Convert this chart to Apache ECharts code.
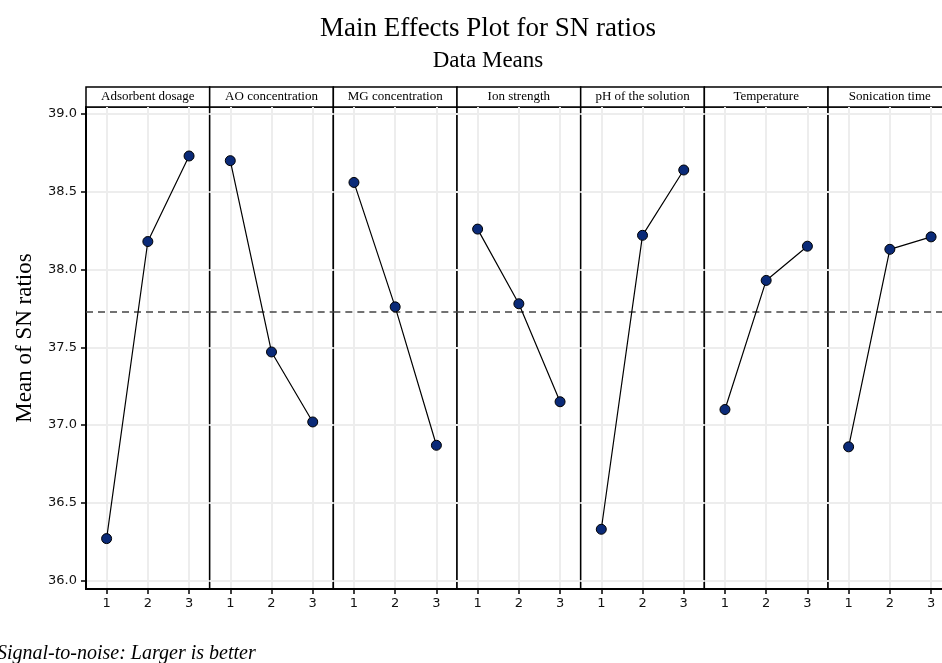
<!DOCTYPE html>
<html lang="en">
<head>
<meta charset="UTF-8">
<title>Main Effects Plot for SN ratios</title>
<script src="https://cdn.jsdelivr.net/npm/echarts@6/dist/echarts.min.js"></script>
<style>
  html, body { margin: 0; padding: 0; background: #fff; }
  #chart { width: 942px; height: 663px; }
</style>
</head>
<body>
<div id="chart"></div>
<script>
// factor names (strip labels) and levels
const factors = ['Adsorbent dosage', 'AO concentration', 'MG concentration', 'Ion strength',
                 'pH of the solution', 'Temperature', 'Sonication time'];
const levels = [1, 2, 3];

// mean of SN ratios per level
const adsorbentDosage = [36.27, 38.18, 38.73];
const aoConcentration = [38.70, 37.47, 37.02];
const mgConcentration = [38.56, 37.76, 36.87];
const ionStrength     = [38.26, 37.78, 37.15];
const phSolution      = [36.33, 38.22, 38.64];
const temperature     = [37.10, 37.93, 38.15];
const sonicationTime  = [36.86, 38.13, 38.21];
const grandMean = 37.73;

const yTicks = [36.0, 36.5, 37.0, 37.5, 38.0, 38.5, 39.0];

const allValues = [adsorbentDosage, aoConcentration, mgConcentration, ionStrength,
                   phSolution, temperature, sonicationTime];

// layout
const LEFT = 86, PANEL_W = 123.67, TOP = 107, BOTTOM = 74, STRIP_H = 20;
const serif = '"Liberation Serif", "Times New Roman", serif';
const sans = '"DejaVu Sans", Verdana, sans-serif';

const chart = echarts.init(document.getElementById('chart'));

const grids = [], xAxes = [], yAxes = [], series = [], graphics = [];

factors.forEach((name, i) => {
  const x0 = LEFT + i * PANEL_W;
  grids.push({
    left: x0, top: TOP, width: PANEL_W, bottom: BOTTOM,
    containLabel: false, outerBoundsMode: 'none',
    show: true, borderColor: '#000', borderWidth: 1.5, backgroundColor: '#fff'
  });
  xAxes.push({
    type: 'value', gridIndex: i, min: 0.5, max: 3.5,
    axisLine: { show: true, onZero: false, lineStyle: { color: '#000', width: 2 } },
    axisTick: { show: true, length: 5, lineStyle: { color: '#000', width: 1.5 }, customValues: levels },
    axisLabel: { color: '#111', fontFamily: sans, fontSize: 13, margin: 8, customValues: levels },
    splitLine: { show: true, lineStyle: { color: '#ededed', width: 2 } }
  });
  yAxes.push({
    type: 'value', gridIndex: i, min: 35.946, max: 39.045,
    name: i === 0 ? 'Mean of SN ratios' : '',
    nameLocation: 'middle', nameGap: 50,
    nameTextStyle: { fontFamily: serif, fontSize: 23, color: '#000', padding: [0, 0, 0, 20] },
    axisLine: { show: i === 0, lineStyle: { color: '#000', width: 2 } },
    axisTick: { show: i === 0, length: 5, lineStyle: { color: '#000', width: 1.5 }, customValues: yTicks },
    axisLabel: {
      show: i === 0, color: '#111', fontFamily: sans, fontSize: 13, margin: 9,
      customValues: yTicks, formatter: v => v.toFixed(1)
    },
    splitLine: { show: true, lineStyle: { color: '#ededed', width: 2 } }
  });
  series.push({
    name: name, type: 'line', xAxisIndex: i, yAxisIndex: i,
    data: levels.map((l, k) => [l, allValues[i][k]]),
    symbol: 'circle', symbolSize: 10,
    itemStyle: { color: '#0a2a78', borderColor: '#000', borderWidth: 1 },
    lineStyle: { color: '#000', width: 1.2 },
    z: 5,
    markLine: {
      silent: true, symbol: 'none', label: { show: false },
      lineStyle: { color: '#444', type: [7, 5], width: 1.5 },
      data: [{ yAxis: grandMean }],
      z: 3
    }
  });
  // strip header
  graphics.push({
    type: 'rect', shape: { x: x0, y: TOP - STRIP_H, width: PANEL_W, height: STRIP_H },
    style: { fill: '#fff', stroke: '#000', lineWidth: 1.5 }
  });
  graphics.push({
    type: 'text', x: x0 + PANEL_W / 2, y: TOP - STRIP_H / 2,
    style: { text: name, fontFamily: serif, fontSize: 13, fill: '#000', align: 'center', verticalAlign: 'middle' }
  });
});

// footer note
graphics.push({
  type: 'text', x: -3, y: 654,
  style: {
    text: 'Signal-to-noise: Larger is better', fontFamily: serif, fontStyle: 'italic',
    fontSize: 20, fill: '#000', verticalAlign: 'middle'
  }
});

chart.setOption({
  animation: false,
  backgroundColor: '#fff',
  title: {
    text: 'Main Effects Plot for SN ratios',
    subtext: 'Data Means',
    left: 483, textAlign: 'center', top: 10, itemGap: 7,
    textStyle: { fontFamily: serif, fontSize: 27, fontWeight: 'normal', color: '#000' },
    subtextStyle: { fontFamily: serif, fontSize: 23, color: '#000' }
  },
  grid: grids,
  xAxis: xAxes,
  yAxis: yAxes,
  series: series,
  graphic: graphics
});
</script>
</body>
</html>
